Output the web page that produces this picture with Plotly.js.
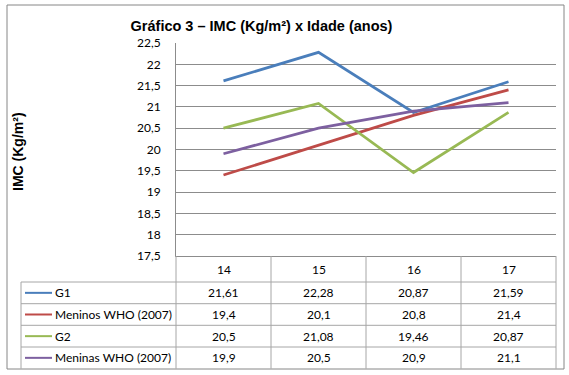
<!DOCTYPE html>
<html>
<head>
<meta charset="utf-8">
<script src="https://cdn.plot.ly/plotly-3.0.1.min.js"></script>
<style>html,body{margin:0;padding:0;background:#fff;}#chart{width:569px;height:375px;}</style>
</head>
<body>
<div id="chart"></div>
<script>
var categories = ["14", "15", "16", "17"];
var seriesNames = ["G1", "Meninos WHO (2007)", "G2", "Meninas WHO (2007)"];
var g1 = [21.61, 22.28, 20.87, 21.59];
var meninosWHO = [19.4, 20.1, 20.8, 21.4];
var g2 = [20.5, 21.08, 19.46, 20.87];
var meninasWHO = [19.9, 20.5, 20.9, 21.1];
var yTickVals = [17.5, 18, 18.5, 19, 19.5, 20, 20.5, 21, 21.5, 22, 22.5];

var seriesValues = [g1, meninosWHO, g2, meninasWHO];
var colors = ["#4A7EBB", "#BE4B48", "#98B954", "#7D60A0"];

var W = 569, H = 375;
var L = 176, R = 556, T = 43, B = 256;
function px(x) { return (x - L) / (R - L); }
function py(y) { return (B - y) / (B - T); }
function fmt(v) { return String(v).replace('.', ','); }

var FONT = "Lato, 'Open Sans', sans-serif";
var gridCol = "#8c8c8c";
var tabCol = "#a6a6a6";

var traces = seriesValues.map(function (vals, i) {
  return {
    x: categories.map(function (c, j) { return j; }),
    y: vals,
    type: "scatter",
    mode: "lines",
    name: seriesNames[i],
    line: { color: colors[i], width: 2.75 },
    hoverinfo: "y"
  };
});

var shapes = [];
var annotations = [];

// outer chart border
shapes.push({ type: "rect", xref: "paper", yref: "paper", x0: px(7), x1: px(564), y0: py(5), y1: py(369), line: { color: "#868686", width: 1 } });

// table geometry
var colEdges = [176, 271, 366, 461, 556];
var rowEdges = [256, 282, 303.7, 325.3, 347, 368.7];
var legendLeft = 21;

colEdges.forEach(function (x) {
  shapes.push({ type: "line", xref: "paper", yref: "paper", x0: px(x), x1: px(x), y0: py(256), y1: py(368.7), line: { color: tabCol, width: 1 } });
});
shapes.push({ type: "line", xref: "paper", yref: "paper", x0: px(legendLeft), x1: px(legendLeft), y0: py(282), y1: py(368.7), line: { color: tabCol, width: 1 } });
for (var r = 1; r < rowEdges.length - 1; r++) {
  shapes.push({ type: "line", xref: "paper", yref: "paper", x0: px(legendLeft), x1: px(556), y0: py(rowEdges[r]), y1: py(rowEdges[r]), line: { color: tabCol, width: 1 } });
}

categories.forEach(function (c, j) {
  annotations.push({ xref: "paper", yref: "paper", x: px((colEdges[j] + colEdges[j + 1]) / 2), y: py((rowEdges[0] + rowEdges[1]) / 2),
    text: c, showarrow: false, xanchor: "center", yanchor: "middle", font: { family: FONT, size: 12, color: "#000" } });
});

seriesNames.forEach(function (name, i) {
  var yc = (rowEdges[i + 1] + rowEdges[i + 2]) / 2;
  shapes.push({ type: "line", xref: "paper", yref: "paper", x0: px(25), x1: px(52), y0: py(yc), y1: py(yc), line: { color: colors[i], width: 2 } });
  annotations.push({ xref: "paper", yref: "paper", x: px(53), y: py(yc), text: name, showarrow: false, xanchor: "left", yanchor: "middle",
    font: { family: FONT, size: 12, color: "#000" } });
  seriesValues[i].forEach(function (v, j) {
    annotations.push({ xref: "paper", yref: "paper", x: px((colEdges[j] + colEdges[j + 1]) / 2), y: py(yc), text: fmt(v), showarrow: false,
      xanchor: "center", yanchor: "middle", font: { family: FONT, size: 12, color: "#000" } });
  });
});

annotations.push({ xref: "paper", yref: "paper", x: px(18), y: py(152), text: "<b>IMC (Kg/m²)</b>", textangle: -90, showarrow: false,
  xanchor: "center", yanchor: "middle", font: { family: "'Liberation Sans', Arial, sans-serif", size: 14, color: "#000" } });

var layout = {
  width: W, height: H,
  margin: { l: L, r: W - R, t: T, b: H - B, pad: 0 },
  paper_bgcolor: "#fff", plot_bgcolor: "#fff",
  separators: ",.",
  showlegend: false,
  title: { text: "<b>Gráfico 3 – IMC (Kg/m²) x Idade (anos)</b>", x: 261.5 / W, xanchor: "center", y: 1 - 25.5 / H, yanchor: "middle",
    font: { family: "'Liberation Sans', Arial, sans-serif", size: 14.5, color: "#000" } },
  xaxis: { range: [-0.5, 3.5], showticklabels: false, showgrid: false, zeroline: false, showline: true, linecolor: gridCol, linewidth: 1, ticks: "", fixedrange: true },
  yaxis: { range: [17.5, 22.5], tickvals: yTickVals, ticktext: yTickVals.map(fmt), showgrid: true, gridcolor: gridCol, gridwidth: 1,
    zeroline: false, showline: true, linecolor: gridCol, linewidth: 1, ticks: "", ticklabelstandoff: 12,
    tickfont: { family: FONT, size: 12, color: "#000" }, fixedrange: true },
  shapes: shapes,
  annotations: annotations
};

Plotly.newPlot("chart", traces, layout, { displayModeBar: false, staticPlot: true });
</script>
</body>
</html>
